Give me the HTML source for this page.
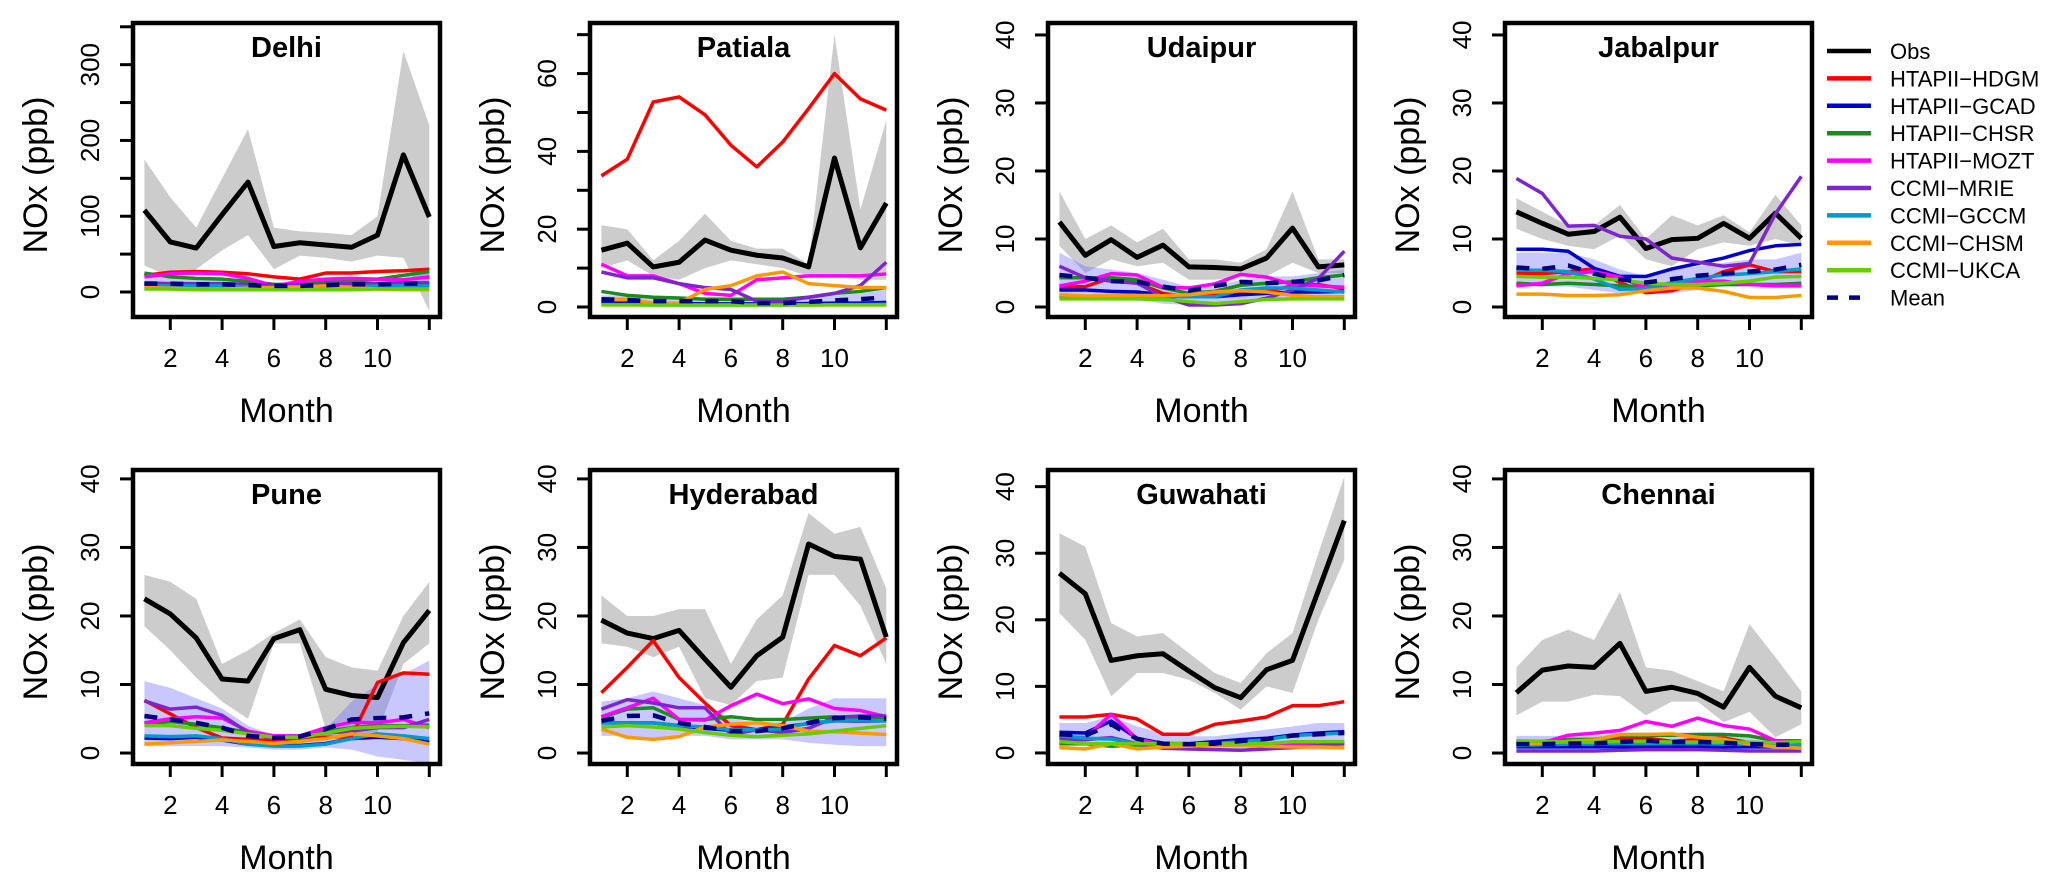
<!DOCTYPE html>
<html><head><meta charset="utf-8"><style>
html,body{margin:0;padding:0;background:#fff;}
svg{display:block;font-family:"Liberation Sans",Arial,sans-serif;}
</style></head><body>
<svg id="chart" width="2067" height="888" viewBox="0 0 2067 888" xmlns="http://www.w3.org/2000/svg"></svg>
<script>
const months=[1,2,3,4,5,6,7,8,9,10,11,12];
const seriesNames=["HTAPII−HDGM","HTAPII−GCAD","HTAPII−CHSR","HTAPII−MOZT","CCMI−MRIE","CCMI−GCCM","CCMI−CHSM","CCMI−UKCA"];
const seriesColors=["#ff0000","#0000cd","#1a8c1a","#ff00ff","#7d26cd","#009acd","#ff9900","#66cd00"];
const panelTitles=["Delhi","Patiala","Udaipur","Jabalpur","Pune","Hyderabad","Guwahati","Chennai"];

// Delhi
const delhiObs=[108,66,58,102,145,60,65,62,59,75,181,99];
const delhiHi=[175,125,85,150,215,85,80,78,75,100,318,220];
const delhiLo=[35,20,30,55,75,30,48,45,40,48,45,-25];
const delhiModels=[[22,26,27,26,24,20,17,25,25,27,28,30],[10,10,10,10,10,9,9,9,10,10,10,11],[25,20,18,17,14,10,10,13,14,17,22,27],[20,24,25,24,18,8,14,17,18,17,16,20],[12,11,11,11,10,9,9,10,11,11,12,12],[8,8,8,8,7,6,6,7,7,8,8,8],[6,5,4,4,5,6,7,8,6,4,3,3],[4,4,3,3,3,3,3,3,3,4,4,4]];
const delhiMean=[11,11,10,10,9,8,8,9,10,10,11,11];
const delhiMHi=[20,18,17,17,16,12,12,15,16,18,22,25];
const delhiMLo=[3,3,3,3,3,3,3,3,3,3,3,3];
// Patiala
const patialaObs=[14.6,16.4,10.3,11.5,17.2,14.6,13.3,12.6,10.3,38.3,15.2,26.7];
const patialaHi=[21,20,12,17,24,17,15,15,11,70,25,48];
const patialaLo=[10,12,8,7,10,12,11,10,8,8,7,7];
const patialaModels=[[33.7,38,52.7,54,49.4,41.6,36,42.4,51,60,53.5,50.6],[1,1,0.9,0.9,0.8,0.8,0.8,0.8,0.9,1,1,1.2],[4,3,2.5,2.3,2,2,2,2,2.5,3.5,4,5],[11,8,8,6,3.5,3,7,7.5,8,8,8,8.5],[9,7.5,7.5,6,5,4.5,1.5,1.5,2.5,3.5,5.5,11.5],[0.6,0.6,0.5,0.5,0.5,0.5,0.5,0.5,0.5,0.6,0.6,0.7],[2,2,1,1,4.5,5.5,8,9,6,5.5,5,5],[0.5,0.5,0.5,0.5,0.5,0.5,0.5,0.5,0.5,0.5,0.5,0.5]];
const patialaMean=[2,1.8,1.5,1.5,1.5,1.5,1,1,1.3,1.7,2,2.5];
const patialaMHi=[3,3,2.5,2.5,2.5,2.5,2,2,2.5,3,3.5,4.5];
const patialaMLo=[0.3,0.3,0.3,0.3,0.3,0.3,0.3,0.3,0.3,0.3,0.3,0.3];
// Udaipur
const udaipurObs=[12.5,7.6,9.9,7.3,9.1,5.9,5.8,5.6,7.2,11.6,5.9,6.2];
const udaipurHi=[17,10,12,9.5,11.5,7,7,6.5,8.5,17,7,7];
const udaipurLo=[9,5,7,6,6.5,4,4,4.5,4.5,6.5,5,5];
const udaipurModels=[[3,3,4.3,3.5,2,1.5,1.8,2,2.3,3.1,3.3,2.7],[2.5,2.5,2.3,2.2,1.8,1.5,1.5,1.8,2,2.2,2.2,2.3],[4.3,4.3,4.3,4,2.8,2,2.3,3.2,3.5,3.7,4.3,4.7],[3.1,3.8,4.9,4.7,2.9,2.8,3.4,4.8,4.4,3.3,3.1,2.9],[6,4.3,3.8,3.5,1.5,0.3,0.3,0.5,1.3,2.5,4.2,8.2],[1.5,1.5,1.5,1.5,1.5,1.5,1.5,2.5,2.8,2.8,2.5,2.2],[1.8,1.6,1.7,1.7,1.7,1.8,2.2,2.4,2.2,1.7,1.5,1.5],[1.2,1.2,1.2,1.2,1.1,0.8,0.5,0.8,1.1,1.2,1.2,1.2]];
const udaipurMean=[4.7,4.3,3.8,3.7,3,2.4,3.1,3.7,3.5,3.7,3.9,4.7];
const udaipurMHi=[8,6,5.5,5,4,3,3,4,4.5,4.5,5,5.5];
const udaipurMLo=[1,1,1,1,0.5,0.3,0.3,0.5,1,1,1,1];
// Jabalpur
const jabalpurObs=[14,12.3,10.7,11.1,13.2,8.6,9.9,10.1,12.3,10.1,13.8,10.1];
const jabalpurHi=[16,14,12,12,15,10,13.5,12,13.5,11,16.5,12];
const jabalpurLo=[11.5,10,9,8.5,10.5,7,6,8.5,9.5,9,10,9];
const jabalpurModels=[[4.9,4.9,5.2,5.6,3.6,2.1,2.4,3.5,5.2,6.2,5.2,5.2],[8.5,8.5,8.2,5.7,4.5,4.5,5.6,6.4,7.2,8.3,9,9.2],[3.5,3.3,3.5,3.3,3.1,3,3.1,3.1,3.3,3.3,3.3,3.5],[3.1,3.5,4.9,5.2,4.4,2.8,3.1,3.8,3.8,3.3,3.1,3.1],[18.9,16.7,11.9,12,10.4,10,7.2,6.6,6,6.4,13.7,19.2],[5.4,5.4,5.2,4.1,2.6,2.7,3.6,4.2,4.7,4.9,5.2,5.6],[1.9,1.9,1.7,1.7,1.8,2.4,2.8,2.8,2.3,1.4,1.4,1.7],[4.5,4.4,4.4,4.2,4,3.5,3.3,3.3,3.5,3.8,4.4,4.5]];
const jabalpurMean=[5.8,5.6,6.1,4.9,4.1,3.6,4.1,4.6,4.9,5.2,5.5,6.2];
const jabalpurMHi=[8,8,8,7,5.5,4.5,5.5,6,6.5,7,7,8];
const jabalpurMLo=[3,3,3,2.5,2,2,2,2.5,3,3,3,3];
// Pune
const puneObs=[22.5,20.3,16.8,10.8,10.5,16.7,18,9.3,8.4,8.1,16.1,20.8];
const puneHi=[26,25,22.5,13,15,17.5,19.5,14,12.5,12,20,25];
const puneLo=[18.5,15,11,7.5,5,16,16,3.5,2,3,13,16];
const puneModels=[[7.7,5.7,3.7,2.2,2,1.8,2,2.3,2.4,10.3,11.7,11.5],[2.2,2.1,2.3,1.9,1.3,1.1,1.1,1.4,2.1,2.3,2.1,1.6],[4.2,4.6,4.2,3.7,3,2.5,2.5,3.2,3.7,4,4,4.1],[4.4,5,5.3,5.1,3.2,2.5,2.5,3.7,4.5,4.4,4.9,3.7],[7.6,6.4,6.7,5.5,3,2.1,2.2,2.9,3.2,3.7,3.7,4.9],[2.5,2.4,2.5,2.1,1.3,1,1,1.3,2.1,2.8,2.5,2.1],[1.3,1.5,1.7,1.9,1.7,1.4,1.7,2.1,2.8,2.5,2.1,1.3],[4,4,3.6,3.3,2.8,2.3,2.3,2.9,3.6,3.8,3.9,3.8]];
const puneMean=[5.4,4.9,4.4,3.7,2.5,2.2,2.4,3.5,4.9,5.1,5.2,5.8];
const puneMHi=[10.5,9.5,8,6.5,4,2.5,2.5,3.5,7.5,10,11.5,13.5];
const puneMLo=[1,1,1,1,0.8,0.5,0.5,0.8,0.5,-0.5,-1,-1.5];
// Hyderabad
const hyderabadObs=[19.4,17.5,16.7,17.9,13.7,9.6,14.2,16.9,30.5,28.7,28.3,16.9];
const hyderabadHi=[23,20,20,21,21,13,19.5,23,35,32,33,24];
const hyderabadLo=[16,15.5,14,15.5,8,7,10.5,11,26,26,21.5,13];
const hyderabadModels=[[8.8,12.5,16.4,11,7.3,4,3.4,4.2,10.8,15.7,14.2,16.8],[4.4,4.4,4.4,4,3.6,3.3,3.4,3.8,4.3,4.7,4.7,4.7],[5.2,6.4,6.6,4.9,4.9,5.3,4.9,4.9,5.1,5.3,5,4.9],[5.3,6.6,8,4.9,4.8,6.9,8.6,7.2,7.9,6.5,6.2,5.3],[6.4,7.8,7.3,6.6,6.6,2.7,3.4,3,3.6,5.2,5.4,5.4],[4.4,4.4,4.4,4,3.8,3.4,3.4,3.5,4.4,4.7,4.8,4.7],[3.5,2.3,2,2.4,3.8,4.2,4.4,4,3.2,3.1,2.9,2.7],[3.8,4,3.8,3.5,3,2.6,2.4,2.6,2.8,3.2,3.6,4]];
const hyderabadMean=[4.7,5.4,5.5,4.4,3.8,3.2,3.2,3.6,4.4,5.1,5.2,5];
const hyderabadMHi=[7.5,8,9,8,7,5,4.5,4.5,6.5,8,8,8];
const hyderabadMLo=[2.5,2.5,2,2.5,2.5,2,2,2,1.5,1.2,1,1];
// Guwahati
const guwahatiObs=[27,23.9,13.9,14.6,14.9,12.3,9.8,8.3,12.5,13.9,24.4,34.9];
const guwahatiHi=[33,31,19.5,17.5,18,15,12,10.5,15,18,30,41.5];
const guwahatiLo=[21,17,8.5,12,12,11,9,6.5,10,9,20,29];
const guwahatiModels=[[5.4,5.4,5.8,5.1,2.8,2.8,4.3,4.8,5.4,7.1,7.1,7.7],[3.1,3,4.8,2.2,1.4,1.4,1.7,2,2.2,2.7,3,3.2],[1.4,1.4,1,1.2,1.2,1.2,1.2,1.2,1,1.2,1.4,1.4],[2.5,2.3,5.8,2.1,1.2,1.2,1.2,1.2,1.2,1.3,1.4,1.5],[2,2,2.3,1.4,0.7,0.6,0.5,0.4,0.6,0.8,1.1,1.4],[2.6,2.2,2.1,1.4,1.2,1.2,1.4,1.7,2,2.6,2.8,3],[0.8,0.6,1.4,0.6,0.9,1,1.2,1.2,1,0.9,0.9,0.8],[1.7,1.4,1.4,1.4,1.4,1.4,1.4,1.4,1.4,1.7,1.7,1.7]];
const guwahatiMean=[2.8,2.6,4.3,2.1,1.4,1.3,1.4,1.8,2.1,2.6,2.8,3];
const guwahatiMHi=[4.5,4.5,5.5,4,3,2.5,2.5,3,3.5,4,4.5,4.5];
const guwahatiMLo=[1,1,1,0.5,0.5,0.5,0.5,0.5,0.5,0.5,0.5,0.5];
// Chennai
const chennaiObs=[8.8,12.1,12.7,12.5,16,9,9.6,8.7,6.7,12.5,8.3,6.6];
const chennaiHi=[12.5,16.5,18,16.5,23.5,12.5,12,10.5,9,18.8,14,9];
const chennaiLo=[5.5,7.5,7.5,8.5,8.3,5.5,7.5,7.5,4.5,6,2.3,4.2];
const chennaiModels=[[1.4,1.5,1.6,1.7,2,2.2,1.7,2,2.2,1.5,1.1,0.9],[0.9,0.9,0.9,0.9,0.9,0.9,0.9,0.9,0.9,0.9,0.9,0.9],[1.7,1.7,2,2,2.5,2.6,2.6,2.7,2.7,2.5,1.8,1.8],[1.3,1.5,2.6,2.9,3.3,4.6,3.9,5.1,4,3.5,1.8,1.4],[0.3,0.3,0.3,0.3,0.4,0.5,0.5,0.5,0.4,0.3,0.3,0.3],[1.1,1.2,1.3,1.3,1.4,1.4,1.4,1.4,1.3,1.3,1.2,1.1],[1.3,1.4,1.7,1.9,2.7,2.7,2.8,2.3,2,1.3,0.9,0.7],[1.8,1.7,1.6,1.6,1.7,1.7,1.6,1.6,1.6,1.6,1.5,1.7]];
const chennaiMean=[1.3,1.3,1.4,1.4,1.6,1.8,1.6,1.6,1.5,1.3,1.2,1.2];
const chennaiMHi=[2.5,2.5,2.5,2.5,3,3,3,3,3,2.5,2,2];
const chennaiMLo=[0.3,0.3,0.3,0.3,0.3,0.3,0.3,0.3,0.3,0.3,0.3,0.3];

const yDomains=[[-33,355],[-2.57,73],[-1.47,41.76],[-1.47,41.76],[-1.6,41.3],[-1.6,41.3],[-1.66,42.5],[-1.6,41.3]];
const yTickVals=[[0,50,100,150,200,250,300,350],[0,10,20,30,40,50,60,70],[0,10,20,30,40],[0,10,20,30,40],[0,10,20,30,40],[0,10,20,30,40],[0,10,20,30,40],[0,10,20,30,40]];
const yTickLabels=[["0","","100","","200","","300",""],["0","","20","","40","","60",""],["0","10","20","30","40"],["0","10","20","30","40"],["0","10","20","30","40"],["0","10","20","30","40"],["0","10","20","30","40"],["0","10","20","30","40"]];
const xTickVals=[2,4,6,8,10,12];
const xTickLabels=["2","4","6","8","10",""];

const panelData=[
 [delhiObs,delhiHi,delhiLo,delhiModels,delhiMean,delhiMHi,delhiMLo],
 [patialaObs,patialaHi,patialaLo,patialaModels,patialaMean,patialaMHi,patialaMLo],
 [udaipurObs,udaipurHi,udaipurLo,udaipurModels,udaipurMean,udaipurMHi,udaipurMLo],
 [jabalpurObs,jabalpurHi,jabalpurLo,jabalpurModels,jabalpurMean,jabalpurMHi,jabalpurMLo],
 [puneObs,puneHi,puneLo,puneModels,puneMean,puneMHi,puneMLo],
 [hyderabadObs,hyderabadHi,hyderabadLo,hyderabadModels,hyderabadMean,hyderabadMHi,hyderabadMLo],
 [guwahatiObs,guwahatiHi,guwahatiLo,guwahatiModels,guwahatiMean,guwahatiMHi,guwahatiMLo],
 [chennaiObs,chennaiHi,chennaiLo,chennaiModels,chennaiMean,chennaiMHi,chennaiMLo]];

const NS="http://www.w3.org/2000/svg";
const svg=document.getElementById('chart');
function mk(tag,attrs,parent){const e=document.createElementNS(NS,tag);for(const k in attrs)e.setAttribute(k,attrs[k]);(parent||svg).appendChild(e);return e;}

const colLefts=[133,590,1048,1505];
const rowTops=[23,470];
const BW=307,BH=294;

panelTitles.forEach((title,p)=>{
  const L=colLefts[p%4],T=rowTops[Math.floor(p/4)];
  const [lo,hi]=yDomains[p];
  const xs=m=>L+11.4+(m-1)*25.9;
  const ys=v=>T+BH-(v-lo)/(hi-lo)*BH;
  const g=mk('g',{});
  
  
  const [obs,bHi,bLo,models,mean,mHi,mLo]=panelData[p];
  const clipId='clip'+p;
  const cp=mk('clipPath',{id:clipId},g);mk('rect',{x:L,y:T,width:BW,height:BH},cp);
  const plot=mk('g',{'clip-path':'url(#'+clipId+')'},g);
  function band(up,dn,fill,name){
    let d='M'+months.map((m,i)=>xs(m)+','+ys(up[i])).join('L');
    d+='L'+months.slice().reverse().map((m,j)=>{const i=11-j;return xs(m)+','+ys(dn[i]);}).join('L')+'Z';
    const e=mk('path',{d:d,fill:fill,stroke:'none'},plot);
    
    
  }
  function line(vals,color,w,name,dash){
    const e=mk('polyline',{points:months.map((m,i)=>xs(m)+','+ys(vals[i])).join(' '),fill:'none',stroke:color,'stroke-width':w,'stroke-linejoin':'round'},plot);
    if(dash)e.setAttribute('stroke-dasharray',dash);
    
    
  }
  band(bHi,bLo,'#cccccc','obs-range-band');
  band(mHi,mLo,'rgba(110,110,255,0.38)','model-range-band');
  line(obs,'#000',5,'obs-line');
  models.forEach((vals,k)=>line(vals,seriesColors[k],3.5,'line-'+seriesNames[k].toLowerCase().replace('−','-')));
  line(mean,'#000080',4.5,'mean-line','13,13');
  const box=mk('rect',{x:L,y:T,width:BW,height:BH,fill:'none',stroke:'#000','stroke-width':4.5},g);
  
  
  const t=mk('text',{x:L+BW/2,y:T+34,'text-anchor':'middle','font-size':29,'font-weight':'bold'},g);
  t.textContent=title;
  
  
  yTickVals[p].forEach((v,i)=>{
    mk('line',{x1:L-13,x2:L,y1:ys(v),y2:ys(v),stroke:'#000','stroke-width':3},g);
    if(yTickLabels[p][i]){
      const tx=mk('text',{x:0,y:0,transform:'translate('+(L-34)+','+ys(v)+') rotate(-90)','text-anchor':'middle','font-size':26},g);
      tx.textContent=yTickLabels[p][i];
      
      
    }
  });
  xTickVals.forEach((m,i)=>{
    mk('line',{x1:xs(m),x2:xs(m),y1:T+BH,y2:T+BH+13,stroke:'#000','stroke-width':3},g);
    if(xTickLabels[i]){
      const tx=mk('text',{x:xs(m),y:T+BH+50,'text-anchor':'middle','font-size':26},g);
      tx.textContent=xTickLabels[i];
      
      
    }
  });
  const xt=mk('text',{x:L+BW/2,y:T+BH+105,'text-anchor':'middle','font-size':34},g);
  xt.textContent='Month';
  
  
  const yt=mk('text',{x:0,y:0,transform:'translate('+(L-86)+','+(T+BH/2+5)+') rotate(-90)','text-anchor':'middle','font-size':34},g);
  yt.textContent='NOx (ppb)';
  
  
});

const lg=mk('g',{});


const legNames=['Obs'].concat(seriesNames,['Mean']);
const legColors=['#000'].concat(seriesColors,['#000080']);
legNames.forEach((n,i)=>{
  const y=51+i*27.4;
  const ln=mk('line',{x1:1827,x2:1871,y1:y,y2:y,stroke:legColors[i],'stroke-width':4.5},lg);
  if(n==='Mean')ln.setAttribute('stroke-dasharray','11,11');
  
  
  const tx=mk('text',{x:1890,y:y+8,'font-size':22},lg);
  tx.textContent=n;
  
  
});
</script>
</body></html>
